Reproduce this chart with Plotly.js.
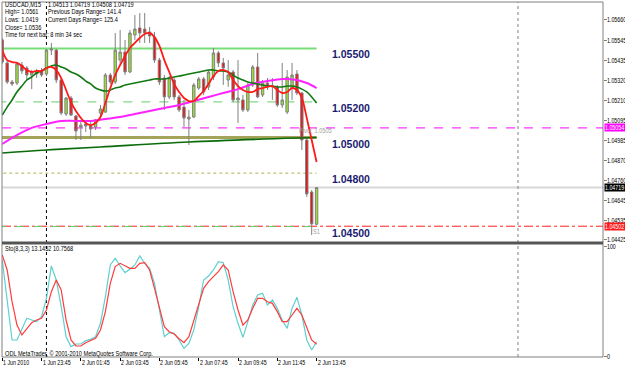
<!DOCTYPE html>
<html><head><meta charset="utf-8">
<script src="https://cdn.plot.ly/plotly-3.0.1.min.js"></script>
<style>html,body{margin:0;padding:0;background:#fff;}#chart{width:625px;height:370px;}</style>
</head><body><div id="chart"></div>
<script>
// ---- data ----
const symbolTitle = "USDCAD,M15";
const openP  = [1.05548,1.05419,1.05312,1.05306,1.05407,1.05390,1.05351,1.05368,1.05374,1.05357,1.05491,1.05491,1.05323,1.05132,1.05222,1.05121,1.05059,1.05076,1.05065,1.05059,1.05138,1.05143,1.05351,1.05312,1.05435,1.05480,1.05368,1.05576,1.05615,1.05609,1.05593,1.05564,1.05435,1.05334,1.05228,1.05323,1.05228,1.05171,1.05104,1.05115,1.05278,1.05329,1.05284,1.05340,1.05475,1.05419,1.05323,1.05368,1.05211,1.05211,1.05155,1.05295,1.05396,1.05239,1.05306,1.05284,1.05284,1.05183,1.05143,1.05278,1.05357,1.05250,1.04986,1.04694,1.04513];
const highP  = [1.05559,1.05435,1.05323,1.05424,1.05424,1.05402,1.05379,1.05385,1.05390,1.05497,1.05531,1.05497,1.05334,1.05228,1.05233,1.05126,1.05098,1.05087,1.05087,1.05104,1.05183,1.05362,1.05362,1.05587,1.05604,1.05548,1.05604,1.05688,1.05699,1.05699,1.05621,1.05593,1.05447,1.05351,1.05345,1.05334,1.05239,1.05211,1.05155,1.05306,1.05340,1.05340,1.05379,1.05503,1.05486,1.05447,1.05435,1.05379,1.05435,1.05239,1.05306,1.05407,1.05475,1.05323,1.05334,1.05334,1.05295,1.05419,1.05379,1.05419,1.05379,1.05256,1.04997,1.04705,1.04719];
const lowP   = [1.05413,1.05301,1.05289,1.05295,1.05357,1.05323,1.05272,1.05334,1.05340,1.05345,1.05463,1.05306,1.05126,1.05121,1.05121,1.04986,1.04986,1.05031,1.04997,1.05042,1.05115,1.05138,1.05301,1.05301,1.05407,1.05351,1.05362,1.05548,1.05531,1.05531,1.05531,1.05419,1.05295,1.05155,1.05216,1.05211,1.05143,1.05059,1.04958,1.05110,1.05267,1.05239,1.05267,1.05323,1.05396,1.05295,1.05284,1.05199,1.05082,1.05143,1.05143,1.05284,1.05222,1.05228,1.05267,1.05211,1.05171,1.05166,1.05132,1.05211,1.05239,1.04930,1.04666,1.04453,1.04508];
const closeP = [1.05424,1.05312,1.05301,1.05413,1.05374,1.05351,1.05368,1.05357,1.05351,1.05491,1.05497,1.05323,1.05138,1.05222,1.05126,1.05037,1.05070,1.05065,1.05048,1.05098,1.05160,1.05351,1.05312,1.05491,1.05480,1.05368,1.05587,1.05609,1.05587,1.05587,1.05570,1.05435,1.05312,1.05228,1.05334,1.05228,1.05155,1.05110,1.05115,1.05295,1.05329,1.05256,1.05368,1.05475,1.05419,1.05390,1.05351,1.05211,1.05222,1.05155,1.05295,1.05396,1.05228,1.05306,1.05284,1.05289,1.05183,1.05211,1.05340,1.05351,1.05250,1.04986,1.04683,1.04515,1.04719];

const maFast = [1.05491,1.05435,1.05424,1.05419,1.05402,1.05379,1.05368,1.05374,1.05374,1.05390,1.05396,1.05379,1.05334,1.05267,1.05199,1.05149,1.05110,1.05082,1.05070,1.05082,1.05115,1.05194,1.05278,1.05351,1.05407,1.05458,1.05503,1.05531,1.05559,1.05581,1.05587,1.05564,1.05514,1.05435,1.05368,1.05301,1.05256,1.05222,1.05205,1.05205,1.05233,1.05261,1.05301,1.05345,1.05374,1.05379,1.05368,1.05323,1.05289,1.05267,1.05256,1.05256,1.05272,1.05278,1.05284,1.05289,1.05267,1.05250,1.05256,1.05278,1.05267,1.05222,1.05110,1.04986,1.04863];
const maMid = [1.05126,1.05171,1.05211,1.05256,1.05289,1.05323,1.05340,1.05362,1.05374,1.05390,1.05402,1.05407,1.05396,1.05385,1.05368,1.05357,1.05340,1.05317,1.05301,1.05278,1.05267,1.05261,1.05267,1.05278,1.05284,1.05295,1.05301,1.05306,1.05312,1.05317,1.05323,1.05329,1.05329,1.05329,1.05334,1.05340,1.05345,1.05351,1.05357,1.05362,1.05368,1.05374,1.05379,1.05379,1.05374,1.05374,1.05368,1.05351,1.05334,1.05323,1.05312,1.05306,1.05301,1.05295,1.05289,1.05289,1.05284,1.05284,1.05289,1.05289,1.05284,1.05272,1.05256,1.05228,1.05194];
const maSlowBars = [0,3,6,9,12,15,18,21,24,27,30,33,36,39,42,45,48,51,54,57,60,62,64];
const maSlow = [1.04964,1.05014,1.05054,1.05076,1.05093,1.05093,1.05093,1.05104,1.05115,1.05132,1.05149,1.05166,1.05183,1.05205,1.05228,1.05250,1.05272,1.05301,1.05317,1.05329,1.05323,1.05306,1.05278];
const maLongBars = [0,9,20,38,60,64];
const maLong = [1.04913,1.04930,1.04947,1.04975,1.04997,1.05000];

const stochMain = [88,51,14.7,14.7,25.4,34.6,33,31.5,36.1,52.9,82.6,69.7,45.3,17.7,8.6,11,11,14.1,15.3,17.7,30,54.4,83.5,89.6,82.6,76.5,79.5,83.5,91.7,85,80.4,66.7,42.2,17.7,21.4,20.8,14.7,7,11.6,23.9,45.3,69.7,73.4,78.9,86.5,85.6,69.7,45.3,30,17.1,31.5,46.8,56,57.5,46.8,51.4,43.7,33,25.4,43.7,53.8,37.6,14.7,5.5,13.1452];
const stochSignal = [92.7,78.9,49.8,28.4,19.3,25.4,30.6,33,34.6,42.2,59,69.7,60.6,33,14.7,9.2,9.2,12.2,14.1,16.2,23.9,40.7,66.7,82,85,82.6,80.4,80.4,85,85.6,78.9,62.1,43.7,26.9,22.3,20.2,15.9,12.2,17.7,33,48.3,62.1,68.2,72.8,77.4,83.5,78.9,59,42.2,28.4,33,43.7,52.9,52.9,49.8,48.3,40.7,31.5,31.5,37.6,43.7,37.6,25.4,14.7,10.7568];

const timeTickBars = [0,8,16,24,32,40,48,56,64];
const timeTickLabels = ["1 Jun 2010","1 Jun 23:45","2 Jun 01:45","2 Jun 03:45","2 Jun 05:45","2 Jun 07:45","2 Jun 09:45","2 Jun 11:45","2 Jun 13:45"];
const priceTicks = [1.05660,1.05545,1.05435,1.05320,1.05210,1.05095,1.04985,1.04870,1.04760,1.04645,1.04535,1.04425];
const priceTickLabels = ["1.05660","1.05545","1.05435","1.05320","1.05210","1.05095","1.04985","1.04870","1.04760","1.04645","1.04535","1.04425"];
const stochTicks = [0,100];
const stochTickLabels = ["0","100"];
const levelPrices = [1.05500,1.05200,1.05000,1.04800,1.04500];
const levelLabels = ["1.05500","1.05200","1.05000","1.04800","1.04500"];
const pivotPrice = 1.05054, pivotText = "Pivot  1.0505";
const bidPrice = 1.04719;
const s1Price = 1.04502, s1Text = "S1";
const daySeparatorBars = [9,105];
const headerLeft = ["USDCAD,M15","High= 1.0561","Lows: 1.0419","Close= 1.0536","Time for next bar: 8 min 34 sec"];
const headerRight = ["1.04513 1.04719 1.04508 1.04719","Previous Days Range= 141.4","Current Days Range= 125.4"];
const stochTitle = "Sto(8,3,3) 13.1452 10.7568";
const copyrightText = "ODL MetaTrader, \u00a9 2001-2010 MetaQuotes Software Corp.";

// ---- build ----
const F = "Liberation Sans, Arial, sans-serif";
const FS = 6.6;
const bars = openP.map((_, i) => i);
const lastBar = bars[bars.length - 1];
const H = 370, T = 2, B = 13, PH = H - T - B;
const py = Y => (H - B - Y) / PH; // pixel row -> paper
const XR = [-0.05, 122.31];

const traces = [
  {type:'candlestick', x:bars, open:openP, high:highP, low:lowP, close:closeP, xaxis:'x', yaxis:'y',
   increasing:{line:{color:'#808080',width:1}, fillcolor:'#99e033'},
   decreasing:{line:{color:'#808080',width:1}, fillcolor:'#ee1111'},
   whiskerwidth:0, hoverinfo:'skip', showlegend:false},
  {type:'scatter', mode:'lines', x:maLongBars, y:maLong, line:{color:'#0b6b0b', width:1.6, shape:'spline'}, xaxis:'x', yaxis:'y', hoverinfo:'skip'},
  {type:'scatter', mode:'lines', x:maSlowBars, y:maSlow, line:{color:'#ff22ff', width:2, shape:'spline'}, xaxis:'x', yaxis:'y', hoverinfo:'skip'},
  {type:'scatter', mode:'lines', x:bars, y:maMid, line:{color:'#127812', width:1.6, shape:'spline'}, xaxis:'x', yaxis:'y', hoverinfo:'skip'},
  {type:'scatter', mode:'lines', x:bars, y:maFast, line:{color:'#ff1a1a', width:1.8, shape:'spline'}, xaxis:'x', yaxis:'y', hoverinfo:'skip'},
  {type:'scatter', mode:'lines', x:bars, y:stochMain, line:{color:'#5fcfcf', width:1.2}, xaxis:'x2', yaxis:'y2', hoverinfo:'skip'},
  {type:'scatter', mode:'lines', x:bars, y:stochSignal, line:{color:'#ff3b3b', width:1.2}, xaxis:'x2', yaxis:'y2', hoverinfo:'skip'}
];

const shapes = [];
const levelStyles = [
  {color:'#77dd77', width:2, dash:'solid'},
  {color:'#66cc66', width:1, dash:'dash'},
  {color:'#a3a35a', width:3, dash:'solid'},
  {color:'#b0b050', width:1, dash:'dot'},
  {color:'#66cc66', width:1, dash:'dash'}
];
shapes.push({type:'line', xref:'paper', x0:0, x1:1, yref:'y', y0:pivotPrice, y1:pivotPrice, line:{color:'#ff00ff', width:1, dash:'dash'}, layer:'below'});
shapes.push({type:'line', xref:'paper', x0:0, x1:1, yref:'y', y0:bidPrice, y1:bidPrice, line:{color:'#d8d8d8', width:2}, layer:'below'});
shapes.push({type:'line', xref:'paper', x0:0, x1:1, yref:'y', y0:s1Price, y1:s1Price, line:{color:'#ff2020', width:1, dash:'dashdot'}, layer:'below'});
levelPrices.forEach((p, k) => {
  shapes.push({type:'line', xref:'x', x0:-1, x1:lastBar, yref:'y', y0:p, y1:p, line:levelStyles[k], layer:'below'});
});
daySeparatorBars.forEach((b, k) => {
  shapes.push({type:'line', xref:'x', x0:b, x1:b, yref:'paper', y0:0, y1:1, line:{color: k===0 ? '#000000' : '#808080', width:1, dash:'dot'}, layer:'below'});
});
shapes.push({type:'rect', xref:'paper', yref:'paper', x0:0, x1:1, y0:0, y1:1, line:{color:'#808080', width:1}});
shapes.push({type:'line', xref:'paper', yref:'paper', x0:0, x1:1, y0:py(243), y1:py(243), line:{color:'#555555', width:3}});

const ann = [];
const small = (c) => ({family:F, size:FS, color:c||'#000'});
const hdrRows = [4.4, 12.3, 19.8, 27.3, 34.8];
headerLeft.forEach((t, k) => {
  ann.push({xref:'paper', yref:'paper', x:(4-2)/601, y:py(hdrRows[k]), xanchor:'left', yanchor:'middle', borderpad:0, text:t, showarrow:false, font:small()});
});
headerRight.forEach((t, k) => {
  ann.push({xref:'paper', yref:'paper', x:(47-2)/601, y:py(hdrRows[k]), xanchor:'left', yanchor:'middle', borderpad:0, text:t, showarrow:false, font:small()});
});
levelPrices.forEach((p, k) => {
  ann.push({xref:'x', yref:'y', x:66.8, y:p, xanchor:'left', yanchor:'middle', yshift:-6, text:levelLabels[k], showarrow:false,
            font:{family:'Liberation Sans, Arial, sans-serif', size:10.5, color:'#1a1a70', weight:'bold'}});
});
ann.push({xref:'x', yref:'y', x:60, y:pivotPrice, xanchor:'left', yanchor:'middle', yshift:-3, text:pivotText, showarrow:false, font:small('#a0a0a0')});
ann.push({xref:'x', yref:'y', x:62.9, y:s1Price, xanchor:'left', yanchor:'middle', yshift:-5, text:s1Text, showarrow:false, font:small('#a0a0a0')});
priceTicks.forEach((p, k) => {
  ann.push({xref:'paper', yref:'y', x:1, y:p, xanchor:'left', yanchor:'middle', xshift:3, borderpad:0, text:priceTickLabels[k], showarrow:false, font:small()});
});
stochTicks.forEach((v, k) => {
  ann.push({xref:'paper', yref:'y2', x:1, y:v, xanchor:'left', yanchor:'middle', xshift:3, borderpad:0, text:stochTickLabels[k], showarrow:false, font:small()});
});
[[pivotPrice,'#ff00ff'],[bidPrice,'#000000'],[s1Price,'#ff1a1a']].forEach(([p, c]) => {
  ann.push({xref:'paper', yref:'y', x:1, y:p, xanchor:'left', yanchor:'middle', xshift:1, text:p.toFixed(5), showarrow:false,
            bgcolor:c, borderpad:0, font:small('#ffffff')});
});
ann.push({xref:'paper', yref:'paper', x:(4-2)/601, y:py(249), xanchor:'left', yanchor:'middle', borderpad:0, text:stochTitle, showarrow:false, font:small()});
ann.push({xref:'paper', yref:'paper', x:(4-2)/601, y:py(353.5), xanchor:'left', yanchor:'middle', borderpad:0, text:copyrightText, showarrow:false, font:small()});
timeTickBars.forEach((b, k) => {
  ann.push({xref:'x2', yref:'paper', x:b, y:0, xanchor:'left', yanchor:'top', xshift:0, yshift:-1, borderpad:0, text:timeTickLabels[k], showarrow:false, font:small()});
});

const layout = {
  width:625, height:370, margin:{l:2, r:22, t:T, b:B, pad:0},
  paper_bgcolor:'#ffffff', plot_bgcolor:'#ffffff', showlegend:false, hovermode:false, dragmode:false,
  xaxis:{domain:[0,1], range:XR, anchor:'y', showticklabels:false, ticks:'', showgrid:false, zeroline:false, showline:false, rangeslider:{visible:false}, automargin:false},
  xaxis2:{domain:[0,1], range:XR, anchor:'y2', matches:'x', tickvals:timeTickBars, ticks:'outside', ticklen:3, tickcolor:'#000', showticklabels:false, showgrid:false, zeroline:false, showline:false, automargin:false},
  yaxis:{domain:[py(241),1], range:[1.04419,1.05761], side:'right', tickvals:priceTicks, ticks:'outside', ticklen:3, tickcolor:'#808080', showticklabels:false, showgrid:false, zeroline:false, showline:false, automargin:false},
  yaxis2:{domain:[0,py(245)], range:[-0.9,101.8], side:'right', tickvals:stochTicks, ticks:'outside', ticklen:3, tickcolor:'#808080', showticklabels:false, showgrid:false, zeroline:false, showline:false, automargin:false},
  shapes:shapes, annotations:ann
};
Plotly.newPlot('chart', traces, layout, {staticPlot:true, displayModeBar:false}).then(() => {
  // condense the small terminal-style text horizontally about its left edge
  document.querySelectorAll('#chart svg text').forEach(t => {
    const fs = parseFloat(t.style.fontSize || t.getAttribute('font-size') || '0');
    if (fs > 0 && fs < 8) {
      const bb = t.getBBox();
      const r = t.getBoundingClientRect();
      if (bb.width > 0) {
        const ax = bb.x;
        const s = (r.left > 600 || r.top > 356) ? 0.8 : 0.85;
        const prev = t.getAttribute('transform') || '';
        t.setAttribute('transform', (prev + ' translate(' + ax + ',0) scale(' + s + ',1) translate(' + (-ax) + ',0)').trim());
      }
    }
  });
});
</script></body></html>
